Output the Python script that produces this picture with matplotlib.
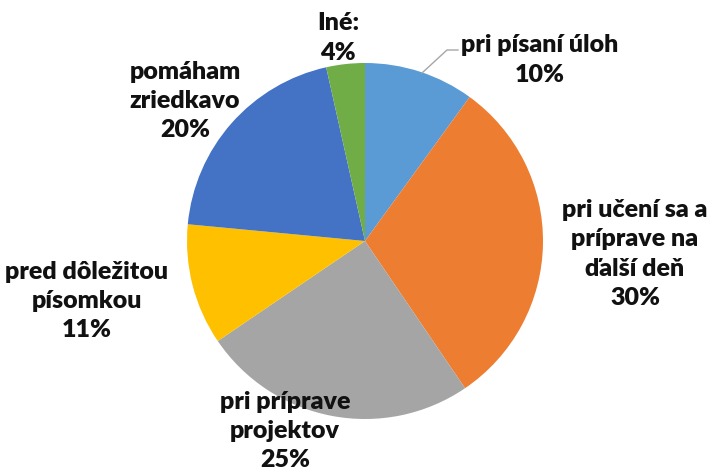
import matplotlib.pyplot as plt

categories = ['pri písaní úloh', 'pri učení sa a\npríprave na\nďalší deň',
              'pri príprave\nprojektov', 'pred dôležitou\npísomkou',
              'pomáham\nzriedkavo', 'Iné:']
values = [10, 30.5, 25, 11, 20, 3.5]
pct_labels = ['10%', '30%', '25%', '11%', '20%', '4%']
colors = ['#5B9BD5', '#ED7D31', '#A5A5A5', '#FFC000', '#4472C4', '#70AD47']

# label centres in pixel coords (x from left, y from top)
label_pos = [(540, 60), (635, 254), (285, 431), (87, 301), (185, 101), (338, 38)]

W, H = 715, 472
fig = plt.figure(figsize=(W / 100, H / 100), dpi=100)
cx, cy, r = 365, 241, 178
ax = fig.add_axes([(cx - r) / W, (H - cy - r) / H, 2 * r / W, 2 * r / H])
ax.pie(values, colors=colors, startangle=90, counterclock=False,
       wedgeprops=dict(linewidth=0))
ax.set_aspect('equal')
ax.set_xlim(-1, 1)
ax.set_ylim(-1, 1)

for cat, pct, (px, py) in zip(categories, pct_labels, label_pos):
    fig.text(px / W, 1 - py / H, cat + '\n' + pct, ha='center', va='center',
             fontsize=18, fontweight='heavy', family='Lato', linespacing=1.4,
             color='#111111')

# leader line for the small slice
fig.add_artist(plt.Line2D([422 / W, 447 / W, 458 / W],
                          [1 - 73 / H, 1 - 50 / H, 1 - 50 / H],
                          color='#a6a6a6', lw=1))

fig.savefig('out.png', dpi=100)
